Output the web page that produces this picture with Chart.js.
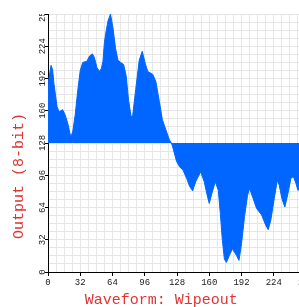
<!DOCTYPE html>
<html><head><meta charset="utf-8">
<script src="https://cdn.jsdelivr.net/npm/chart.js@4"></script>
<style>
html,body{margin:0;padding:0;background:#fff;overflow:hidden;width:299px;height:307px;}
#wrap{position:absolute;left:0;top:14px;}
canvas{display:block;}
</style></head><body>
<div id="wrap"><canvas id="c" width="322" height="294" style="width:322px;height:294px"></canvas></div>
<script>
// Sample positions (x, 0..256) and waveform output values (8-bit)
const sampleX = [0,3,4.5,6,9,11,14.5,17,20,22.5,24.5,27,29.5,32,34.5,38.5,41,44,46,48.5,51,53,54.5,56,57.5,59.5,62,64.5,67,69.5,72,75,77.5,80,82.5,84,87,90.5,93.5,96.5,99,104,107,110.5,113.5,117,120.5,122.5,124,127.5,130.5,134,137.5,140.5,143.5,146.5,151.5,155,158,160,163,166,169,171,173,175,177,180,183,187,189.5,192,195,198,200,203.5,207,212,216,218.5,221,224.5,227.5,229.5,232,235,238,241,243.5,246,248,252,256];
const outputValues = [186,205,201,186,164,159,161,156,146,134,139,156,180,200,208,209,214,216.5,213,203,199,202,209,228,238,249,256,242,222,210,208,206,195,170,154,155,181,210,219,207,199,196,189,169,151,141,131,128,123,110,104.5,101,93,85,80.5,89.5,99.5,89.5,76,68,79.5,89.5,81,58,31.5,13,9.5,16.5,23,16.5,11.5,28,55,76,83,73,63,56.5,46.5,42,51,73,91,86,73,64.5,77.5,93,94.5,88,81,84,88];
const xTickLabels = [0,32,64,96,128,160,192,224,256];
const yTickLabels = [0,32,64,96,128,160,192,224,256];
const baselineValue = 128;
const xTitle = 'Waveform: Wipeout';
const yTitle = 'Output (8-bit)';

const fillBlue = '#0066ff';
const titleRed = 'rgb(222,52,52)';
const gridGray = '#e6e6e6';
const tickFont = {family: '"Liberation Mono", monospace', size: 9};

const points = sampleX.map((x, i) => ({x: x, y: outputValues[i]}));

const axisTitles = {
  id: 'axisTitles',
  afterDraw(chart) {
    const ctx = chart.ctx;
    ctx.save();
    ctx.fillStyle = titleRed;
    ctx.font = '15px "Liberation Mono", monospace';
    ctx.textAlign = 'center';
    ctx.textBaseline = 'alphabetic';
    ctx.fillText(xTitle, 161.3, 289.5);
    ctx.translate(22.7, 162);
    ctx.rotate(-Math.PI / 2);
    ctx.fillText(yTitle, 0, 0);
    ctx.restore();
  }
};

function majorLabel(list) {
  return function (v) { return list.includes(v) ? String(v) : ''; };
}
function majorTickColor(list) {
  return function (c) { return (c.tick && list.includes(c.tick.value)) ? '#000' : 'rgba(0,0,0,0)'; };
}

new Chart(document.getElementById('c'), {
  type: 'line',
  data: {
    datasets: [{
      data: points,
      backgroundColor: fillBlue,
      borderColor: fillBlue,
      borderWidth: 1,
      pointRadius: 0,
      tension: 0,
      fill: {value: baselineValue}
    }]
  },
  options: {
    responsive: false,
    devicePixelRatio: 1,
    animation: false,
    events: [],
    layout: {autoPadding: false, padding: {left: 0, top: 0, right: 16, bottom: 16}},
    plugins: {legend: {display: false}, tooltip: {enabled: false}, title: {display: false}},
    scales: {
      x: {
        type: 'linear', min: 0, max: 256,
        ticks: {stepSize: 8, autoSkip: false, maxRotation: 0, minRotation: 0, padding: 1,
          font: tickFont, color: '#222', callback: majorLabel(xTickLabels)},
        grid: {color: gridGray, lineWidth: 1, tickLength: 4, tickColor: majorTickColor(xTickLabels)},
        border: {color: '#000', width: 1},
        afterFit(s) { s.height = 20; }
      },
      y: {
        type: 'linear', min: 0, max: 256,
        ticks: {stepSize: 8, autoSkip: false, minRotation: 90, maxRotation: 90, crossAlign: 'center', padding: -6,
          font: tickFont, color: '#222', callback: majorLabel(yTickLabels)},
        grid: {color: gridGray, lineWidth: 1, tickLength: 3, tickColor: majorTickColor(yTickLabels)},
        border: {color: '#000', width: 1},
        afterFit(s) { s.width = 48; }
      }
    }
  },
  plugins: [axisTitles]
});
</script>
</body></html>
